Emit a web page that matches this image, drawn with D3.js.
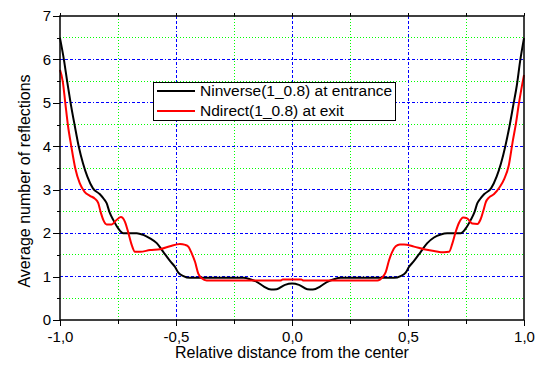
<!DOCTYPE html>
<html>
<head>
<meta charset="utf-8">
<script src="https://cdn.jsdelivr.net/npm/d3@7"></script>
<style>
  body { margin: 0; background: #fff; }
  svg { display: block; font-family: "Liberation Sans", Arial, sans-serif; }
</style>
</head>
<body>
<div id="chart"></div>
<script>
  const width = 542;
  const height = 375;

  // tick positions
  const xMajor = [-1, -0.5, 0, 0.5, 1];
  const xMinor = [-0.75, -0.25, 0.25, 0.75];
  const yMajor = [0, 1, 2, 3, 4, 5, 6, 7];
  const yMinor = [0.5, 1.5, 2.5, 3.5, 4.5, 5.5, 6.5];

  // series
  const inverseX = [-1.0, -0.983, -0.969, -0.954, -0.937, -0.919, -0.901, -0.882, -0.858, -0.829, -0.810, -0.799, -0.787, -0.770, -0.749, -0.727, -0.669, -0.641, -0.612, -0.583, -0.555, -0.526, -0.504, -0.490, -0.468, -0.440, -0.210, -0.181, -0.152, -0.124, -0.090, -0.066, -0.030, 0,
    0.030, 0.066, 0.090, 0.124, 0.152, 0.181, 0.210, 0.440, 0.468, 0.490, 0.504, 0.526, 0.555, 0.583, 0.612, 0.641, 0.669, 0.727, 0.749, 0.770, 0.787, 0.799, 0.810, 0.829, 0.858, 0.882, 0.901, 0.919, 0.937, 0.954, 0.969, 0.983, 1.0];
  const inverseY = [6.49, 5.99, 5.49, 4.99, 4.49, 3.99, 3.61, 3.30, 3.03, 2.90, 2.78, 2.69, 2.49, 2.30, 2.11, 2.00, 2.00, 1.96, 1.88, 1.77, 1.57, 1.36, 1.22, 1.09, 1.01, 0.97, 0.97, 0.94, 0.88, 0.78, 0.70, 0.71, 0.81, 0.84,
    0.81, 0.71, 0.70, 0.78, 0.88, 0.94, 0.97, 0.97, 1.01, 1.09, 1.22, 1.36, 1.57, 1.77, 1.90, 1.97, 2.00, 2.00, 2.11, 2.30, 2.49, 2.69, 2.78, 2.90, 3.03, 3.30, 3.61, 3.99, 4.45, 4.95, 5.40, 5.95, 6.49];

  const directX = [-1.0, -0.988, -0.977, -0.966, -0.951, -0.934, -0.915, -0.894, -0.871, -0.849, -0.835, -0.825, -0.813, -0.799, -0.777, -0.759, -0.738, -0.720, -0.705, -0.691, -0.677, -0.655, -0.612, -0.569, -0.526, -0.483, -0.460, -0.447, -0.432, -0.418, -0.404, -0.389, -0.368, -0.050, -0.040, 0,
    0.040, 0.050, 0.368, 0.379, 0.389, 0.404, 0.418, 0.432, 0.447, 0.465, 0.483, 0.526, 0.569, 0.612, 0.655, 0.677, 0.691, 0.705, 0.720, 0.738, 0.755, 0.777, 0.799, 0.813, 0.825, 0.835, 0.849, 0.871, 0.894, 0.915, 0.934, 0.951, 0.966, 0.977, 0.988, 1.0];
  const directY = [5.76, 5.49, 4.99, 4.49, 3.99, 3.49, 3.15, 2.95, 2.86, 2.79, 2.69, 2.49, 2.30, 2.20, 2.20, 2.29, 2.37, 2.26, 2.00, 1.73, 1.57, 1.57, 1.61, 1.63, 1.70, 1.75, 1.73, 1.69, 1.53, 1.34, 1.07, 0.96, 0.91, 0.91, 0.93, 0.93,
    0.93, 0.91, 0.91, 0.93, 0.98, 1.10, 1.37, 1.57, 1.70, 1.74, 1.74, 1.69, 1.63, 1.59, 1.56, 1.57, 1.76, 2.02, 2.24, 2.36, 2.34, 2.22, 2.21, 2.32, 2.52, 2.71, 2.82, 2.90, 3.05, 3.25, 3.55, 4.10, 4.55, 4.95, 5.30, 5.64];

  const series = [
    { name: "Ninverse(1_0.8) at entrance", color: "#000000", xs: inverseX, ys: inverseY },
    { name: "Ndirect(1_0.8) at exit", color: "#ff0000", xs: directX, ys: directY }
  ];

  const plot = { left: 60, right: 524, top: 16, bottom: 320 };

  const x = d3.scaleLinear().domain([-1, 1]).range([plot.left, plot.right]);
  const y = d3.scaleLinear().domain([0, 7]).range([plot.bottom, plot.top]);

  const locale = d3.formatLocale({ decimal: ",", thousands: ".", grouping: [3], currency: ["", ""], minus: "-" });
  const fmt = locale.format(".1f");

  const svg = d3.select("#chart")
    .append("svg")
    .attr("width", width)
    .attr("height", height);

  svg.append("rect").attr("width", width).attr("height", height).attr("fill", "#fff");

  // grid
  const grid = svg.append("g").attr("class", "grid");
  grid.selectAll(".gx-minor").data(xMinor).join("line")
    .attr("x1", (d) => x(d)).attr("x2", (d) => x(d))
    .attr("y1", plot.top).attr("y2", plot.bottom)
    .attr("stroke", "#00ff00").attr("stroke-dasharray", "1,2");
  grid.selectAll(".gy-minor").data(yMinor).join("line")
    .attr("x1", plot.left).attr("x2", plot.right)
    .attr("y1", (d) => y(d)).attr("y2", (d) => y(d))
    .attr("stroke", "#00ff00").attr("stroke-dasharray", "1,2");
  grid.selectAll(".gx-major").data(xMajor.slice(1, -1)).join("line")
    .attr("x1", (d) => x(d)).attr("x2", (d) => x(d))
    .attr("y1", plot.top).attr("y2", plot.bottom)
    .attr("stroke", "#0000ff").attr("stroke-dasharray", "3,2,3,2,3,2,1,2");
  grid.selectAll(".gy-major").data(yMajor.slice(1, -1)).join("line")
    .attr("x1", plot.left).attr("x2", plot.right)
    .attr("y1", (d) => y(d)).attr("y2", (d) => y(d))
    .attr("stroke", "#0000ff").attr("stroke-dasharray", "3,2,3,2,3,2,1,2");
  grid.selectAll("line").attr("shape-rendering", "crispEdges");

  // curves
  const line = d3.line()
    .x((d) => x(d[0]))
    .y((d) => y(d[1]))
    .curve(d3.curveMonotoneX);

  svg.append("g").selectAll("path")
    .data(series)
    .join("path")
    .attr("d", (s) => line(d3.zip(s.xs, s.ys)))
    .attr("fill", "none")
    .attr("stroke", (s) => s.color)
    .attr("stroke-width", 2)
    .attr("stroke-linejoin", "round");

  // axes
  const axisStyle = (g) => {
    g.select(".domain").remove();
    g.selectAll("line").attr("stroke", "#000").attr("shape-rendering", "crispEdges");
    g.selectAll("text").attr("fill", "#000").attr("font-size", 15);
  };

  svg.append("g")
    .attr("transform", `translate(0,${plot.bottom})`)
    .call(d3.axisBottom(x).tickValues(xMajor).tickSize(6).tickPadding(5).tickFormat(fmt))
    .call(axisStyle);
  svg.append("g")
    .attr("transform", `translate(0,${plot.bottom})`)
    .call(d3.axisBottom(x).tickValues(xMinor).tickSize(4).tickFormat(""))
    .call(axisStyle);
  svg.append("g")
    .attr("transform", `translate(0,${plot.top})`)
    .call(d3.axisTop(x).tickValues(xMajor.concat(xMinor)).tickSize(3).tickFormat(""))
    .call(axisStyle);
  svg.append("g")
    .attr("transform", `translate(${plot.left},0)`)
    .call(d3.axisLeft(y).tickValues(yMajor).tickSize(7).tickPadding(2).tickFormat(d3.format("d")))
    .call(axisStyle);
  svg.append("g")
    .attr("transform", `translate(${plot.left},0)`)
    .call(d3.axisLeft(y).tickValues(yMinor).tickSize(3).tickFormat(""))
    .call(axisStyle);

  svg.append("rect")
    .attr("x", plot.left)
    .attr("y", plot.top)
    .attr("width", plot.right - plot.left)
    .attr("height", plot.bottom - plot.top)
    .attr("fill", "none")
    .attr("stroke", "#000")
    .attr("stroke-width", 1.5);

  // axis titles
  svg.append("text")
    .attr("x", (plot.left + plot.right) / 2)
    .attr("y", 358)
    .attr("text-anchor", "middle")
    .attr("font-size", 16)
    .text("Relative distance from the center");

  svg.append("text")
    .attr("transform", "translate(30,181) rotate(-90)")
    .attr("text-anchor", "middle")
    .attr("font-size", 16)
    .text("Average number of reflections");

  // legend
  const legend = svg.append("g").attr("class", "legend");
  legend.append("rect")
    .attr("x", 153.5).attr("y", 82.5)
    .attr("width", 242).attr("height", 38)
    .attr("fill", "#fff").attr("stroke", "#000");

  const item = legend.selectAll("g")
    .data(series)
    .join("g")
    .attr("transform", (s, i) => `translate(0,${91 + i * 20})`);
  item.append("line")
    .attr("x1", 157).attr("x2", 195)
    .attr("stroke", (s) => s.color)
    .attr("stroke-width", 2);
  item.append("text")
    .attr("x", 200)
    .attr("dy", "0.35em")
    .attr("font-size", 15.5)
    .text((s) => s.name);
</script>
</body>
</html>
